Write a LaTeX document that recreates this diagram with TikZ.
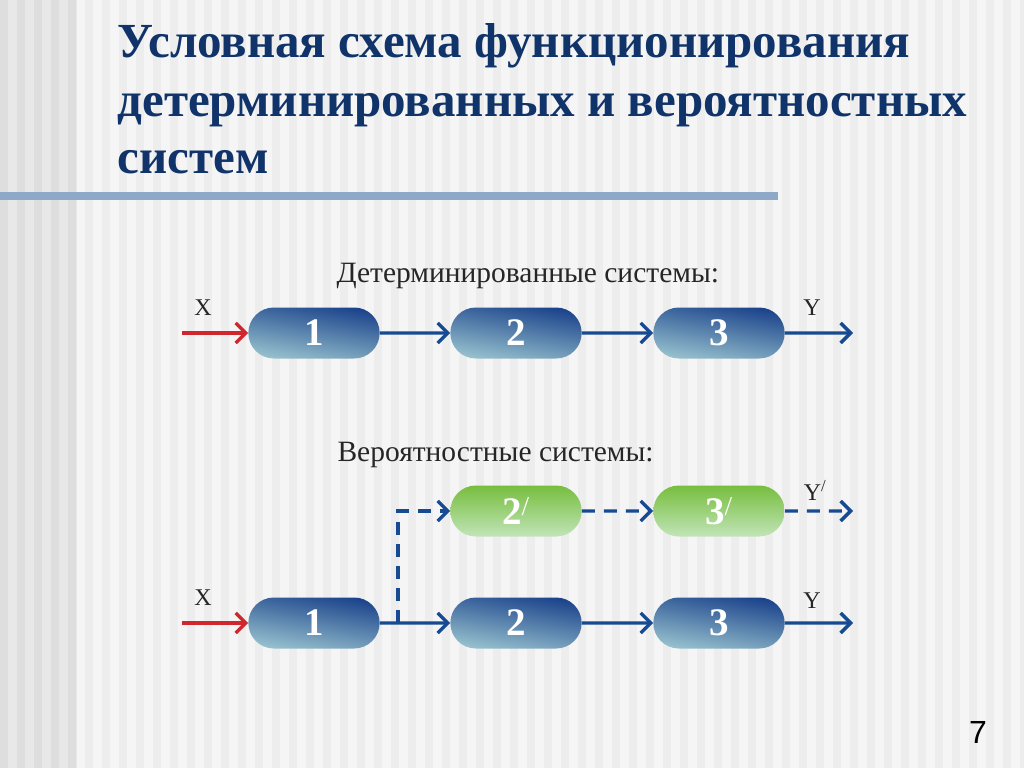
\documentclass[tikz,border=0pt]{standalone}
\usepackage{fontspec}
\setmainfont{Liberation Serif}
\setsansfont{Liberation Sans}
\usetikzlibrary{shapes.misc,arrows.meta}

\definecolor{titleblue}{RGB}{16,52,106}
\definecolor{barblue}{RGB}{142,168,200}
\definecolor{flowblue}{RGB}{22,74,146}
\definecolor{inred}{RGB}{208,38,46}
\definecolor{boxdark}{RGB}{28,68,140}
\definecolor{boxmid}{RGB}{56,98,156}
\definecolor{boxlight}{RGB}{150,192,205}
\definecolor{greendark}{RGB}{118,190,62}
\definecolor{greenlight}{RGB}{194,228,184}

\tikzset{
  sysbox/.style={rounded rectangle, minimum width=138pt, minimum height=51pt,
    text=white, font=\fontsize{39}{41}\selectfont\bfseries,
    top color=boxdark, middle color=boxmid, bottom color=boxlight, shading angle=-10},
  greenbox/.style={sysbox, top color=greendark, middle color=greendark!65!greenlight,
    bottom color=greenlight},
  flow/.style={draw=flowblue, line width=3.2pt, -{Straight Barb[length=10pt,width=20pt,line width=3.4pt]}},
  flowdash/.style={flow, dash pattern=on 13pt off 9pt},
  inarrow/.style={flow, draw=inred},
  lbl/.style={font=\fontsize{24}{26}\selectfont, text=black!85},
  head/.style={font=\fontsize{29.5}{32}\selectfont, text=black!85, anchor=base west},
}

\begin{document}
\begin{tikzpicture}[x=1pt,y=-1pt]

    \useasboundingbox (0,0) rectangle (1024,768);

    % background stripes
    \fill[black!13] (0,0) rectangle (77,768);
    \foreach \s in {0,17,...,68}
        \fill[black!9] (\s+8,0) rectangle (\s+17,768);
    \fill[black!4] (77,0) rectangle (1024,768);
    \foreach \s in {85,102,...,1020}
        \fill[black!7] (\s,0) rectangle (\s+8,768);
    \fill[barblue] (0,192) rectangle (778,200);

    % title
    \node (title1)[anchor=base west, text=titleblue, font=\fontsize{49}{51}\selectfont\bfseries] at (114,58) {Условная схема функционирования};
    \node (title2)[anchor=base west, text=titleblue, font=\fontsize{49}{51}\selectfont\bfseries] at (114,116) {детерминированных и вероятностных};
    \node (title3)[anchor=base west, text=titleblue, font=\fontsize{49}{51}\selectfont\bfseries] at (114,173) {систем};

    % deterministic
    \node (head1)[head] at (333,282) {Детерминированные системы:};
    \node (d1)[sysbox] at (314,333) {1};
    \node (d2)[sysbox] at (516,333) {2};
    \node (d3)[sysbox] at (719,333) {3};
    \coordinate (din) at (182,333);
    \coordinate (dout) at (853,333);
    \node (dx)[lbl] at (203,308) {X};
    \node (dy)[lbl] at (812,308) {Y};

    \draw [inarrow] (din) -- (d1);
    \draw [flow] (d1) -- (d2);
    \draw [flow] (d2) -- (d3);
    \draw [flow] (d3) -- (dout);

    % probabilistic
    \node (head2)[head] at (334,461) {Вероятностные системы:};
    \node (g2)[greenbox] at (516,511) {2\textsuperscript{\mdseries/}};
    \node (g3)[greenbox] at (719,511) {3\textsuperscript{\mdseries/}};
    \node (p1)[sysbox] at (314,623) {1};
    \node (p2)[sysbox] at (516,623) {2};
    \node (p3)[sysbox] at (719,623) {3};
    \coordinate (pin) at (182,623);
    \coordinate (split) at (398,623);
    \coordinate (gout) at (853,511);
    \coordinate (pout) at (853,623);
    \node (px)[lbl] at (203,598) {X};
    \node (py)[lbl] at (812,601) {Y};
    \node (gy)[lbl] at (815,490) {Y\textsuperscript{/}};

    \draw [inarrow] (pin) -- (p1);
    \draw [flow] (p1) -- (p2);
    \draw [flow] (p2) -- (p3);
    \draw [flow] (p3) -- (pout);
    \draw [flowdash] (split) |- (g2);
    \draw [flowdash] (g2) -- (g3);
    \draw [flowdash] (g3) -- (gout);

    \node (page)[font=\sffamily\fontsize{32}{34}\selectfont] at (978,732) {7};
\end{tikzpicture}
\end{document}
